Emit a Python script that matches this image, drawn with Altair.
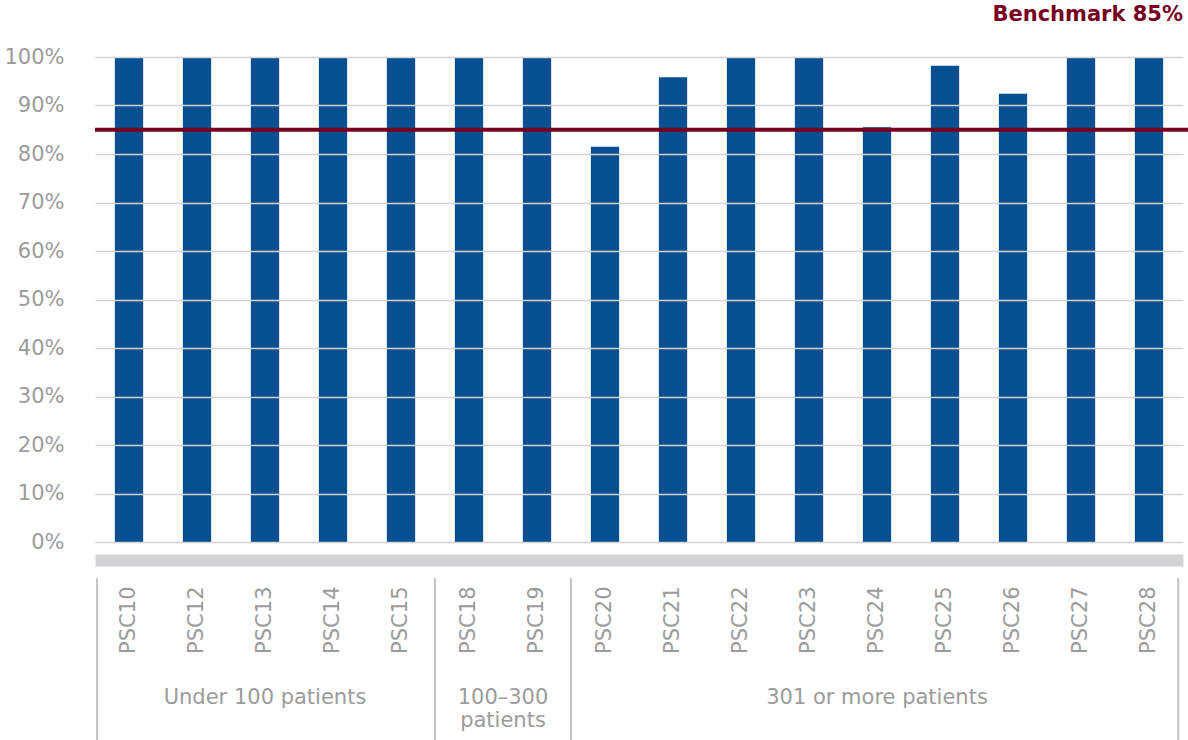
import altair as alt
import pandas as pd

# Share of patients meeting the target, by stroke centre
centres = ["PSC10", "PSC12", "PSC13", "PSC14", "PSC15", "PSC18", "PSC19", "PSC20",
           "PSC21", "PSC22", "PSC23", "PSC24", "PSC25", "PSC26", "PSC27", "PSC28"]
values = [100, 100, 100, 100, 100, 100, 100, 81.5,
          95.8, 100, 100, 85.5, 98.2, 92.4, 100, 100]

# Volume groups: label, centre position (in bar slots) and boundaries
group_labels = ["Under 100 patients", "100–300\npatients", "301 or more patients"]
group_centres = [2.5, 6.0, 11.5]
group_edges = [0.03, 5, 7, 15.93]

benchmark = 85
n_slots = len(centres)

BLUE = "#064f91"
MAROON = "#76001f"
GREY_TEXT = "#9b9b9b"
FONT = "DejaVu Sans"

W, H = 1093, 485

bars_df = pd.DataFrame({"centre": centres, "value": values})
groups_df = pd.DataFrame({"label": group_labels, "pos": group_centres})
edges_df = pd.DataFrame({"edge": group_edges})
bench_df = pd.DataFrame({"value": [benchmark], "label": [f"Benchmark {benchmark}%"]})

y_scale = alt.Scale(domain=[0, 100], nice=False)

bars = alt.Chart(bars_df).mark_bar(color=BLUE).encode(
    x=alt.X("centre:N", sort=centres, title=None,
            scale=alt.Scale(range=[0, 1088], paddingInner=0.584, paddingOuter=0.292),
            axis=alt.Axis(labelAngle=-90, labelAlign="right", labelBaseline="middle",
                          labelFont=FONT, labelFontSize=21, labelColor=GREY_TEXT,
                          ticks=False, domainColor="#d2d3d4", domainWidth=12,
                          offset=18, labelPadding=26, grid=False)),
    y=alt.Y("value:Q", scale=y_scale, title=None,
            axis=alt.Axis(values=list(range(0, 101, 10)), labelExpr="datum.value + '%'",
                          labelFont=FONT, labelFontSize=21, labelColor=GREY_TEXT,
                          labelPadding=31, ticks=False, domain=False,
                          grid=True, gridColor="#d4d4d4", gridWidth=1.5, zindex=1)),
)

bench = alt.Chart(bench_df).mark_rule(color=MAROON, strokeWidth=4).encode(
    y=alt.Y("value:Q", scale=y_scale)
)

bench_label = alt.Chart(bench_df).mark_text(
    align="right", baseline="middle", font=FONT, fontSize=21, fontWeight="bold",
    color=MAROON
).encode(x=alt.value(1088), y=alt.value(-42), text="label:N")

slot_scale = alt.Scale(domain=[0, n_slots], range=[0, 1088], nice=False, zero=False)

dividers = alt.Chart(edges_df).mark_rule(color="#c3c3c3", strokeWidth=2).encode(
    x=alt.X("edge:Q", scale=slot_scale, axis=None),
    y=alt.value(521), y2=alt.value(683),
)

group_text = alt.Chart(groups_df).mark_text(
    align="center", baseline="middle", font=FONT, fontSize=21, color=GREY_TEXT,
    lineBreak="\n", lineHeight=23
).encode(
    x=alt.X("pos:Q", scale=slot_scale, axis=None),
    y=alt.value(641),
    text="label:N",
)

chart = alt.layer(bars, bench, bench_label, dividers, group_text).resolve_scale(
    x="independent"
).properties(
    width=W, height=H,
    padding={"left": 95, "top": 57, "right": 0, "bottom": 198},
    autosize=alt.AutoSizeParams(type="none"),
).configure_view(stroke=None)

chart.save("out.html", embed_options={"renderer": "svg", "actions": False})
